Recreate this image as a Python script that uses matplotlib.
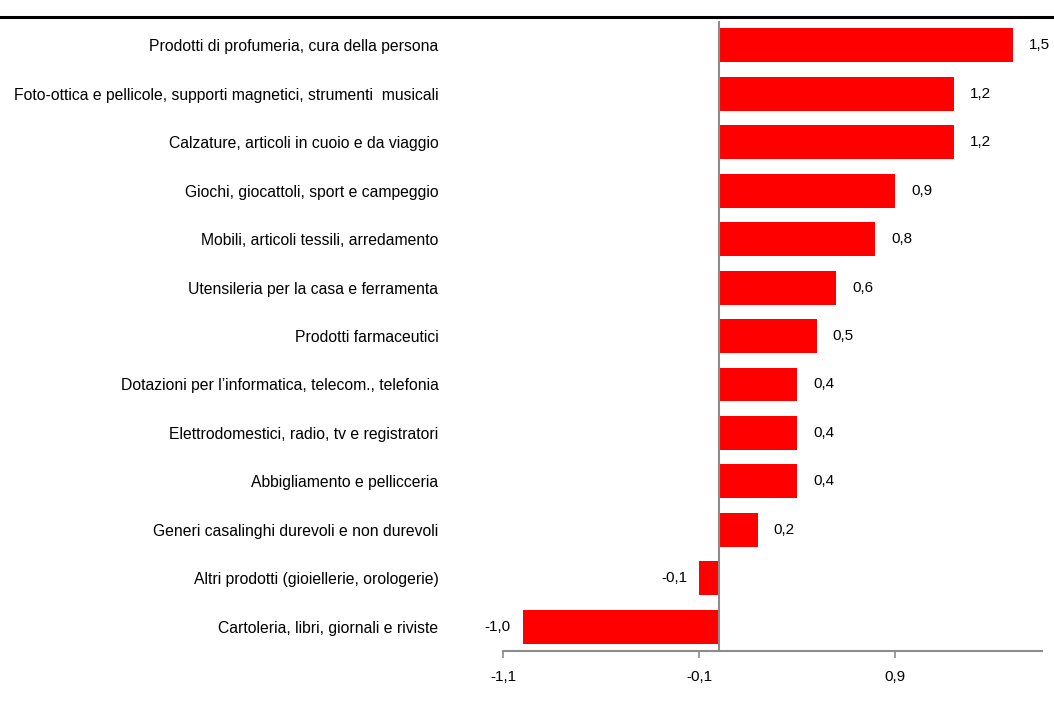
import matplotlib
matplotlib.use("Agg")
import matplotlib.pyplot as plt
from matplotlib.lines import Line2D

# Data (top to bottom as in the chart)
categories = [
    "Prodotti di profumeria, cura della persona",
    "Foto-ottica e pellicole, supporti magnetici, strumenti  musicali",
    "Calzature, articoli in cuoio e da viaggio",
    "Giochi, giocattoli, sport e campeggio",
    "Mobili, articoli tessili, arredamento",
    "Utensileria per la casa e ferramenta",
    "Prodotti farmaceutici",
    "Dotazioni per l\u2019informatica, telecom., telefonia",
    "Elettrodomestici, radio, tv e registratori",
    "Abbigliamento e pellicceria",
    "Generi casalinghi durevoli e non durevoli",
    "Altri prodotti (gioiellerie, orologerie)",
    "Cartoleria, libri, giornali e riviste",
]
values = [1.5, 1.2, 1.2, 0.9, 0.8, 0.6, 0.5, 0.4, 0.4, 0.4, 0.2, -0.1, -1.0]
xticks = [-1.1, -0.1, 0.9]

plt.rcParams["font.family"] = ["Liberation Sans", "DejaVu Sans"]

def fmt(v):
    return f"{v:.1f}".replace(".", ",")

fig = plt.figure(figsize=(10.54, 7.11), dpi=100)
ax = fig.add_axes([503 / 1054, 60 / 711, (1042 - 503) / 1054, (651 - 21) / 711])

ypos = list(range(len(categories)))
ax.barh(ypos, values, height=0.7, color="#ff0000", zorder=2)
ax.set_ylim(len(categories) - 0.5, -0.5)
ax.set_xlim(-1.1, 1.65)

# value labels
for y, v in zip(ypos, values):
    if v >= 0:
        ax.annotate(fmt(v), (v, y), xytext=(11.5, 0), textcoords="offset points",
                    ha="left", va="center", fontsize=11)
    else:
        ax.annotate(fmt(v), (v, y), xytext=(-8.5, 0), textcoords="offset points",
                    ha="right", va="center", fontsize=11)

# zero line
ax.axvline(0, color="#8c8c8c", lw=1.5, zorder=3)

ax.set_yticks(ypos)
ax.set_yticklabels(categories, fontsize=11.3)
ax.tick_params(axis="y", length=0, pad=46.5)
ax.set_xticks(xticks)
ax.set_xticklabels([fmt(t) for t in xticks], fontsize=11)
ax.tick_params(axis="x", length=5, width=1.2, color="#8c8c8c", pad=9)

for s in ["top", "right", "left"]:
    ax.spines[s].set_visible(False)
ax.spines["bottom"].set_color("#8c8c8c")
ax.spines["bottom"].set_linewidth(1.5)

# thick rule across the top
fig.add_artist(Line2D([0, 1], [1 - 17 / 711, 1 - 17 / 711], color="black", lw=2.2,
                      transform=fig.transFigure))

fig.savefig("out.png", dpi=100)
